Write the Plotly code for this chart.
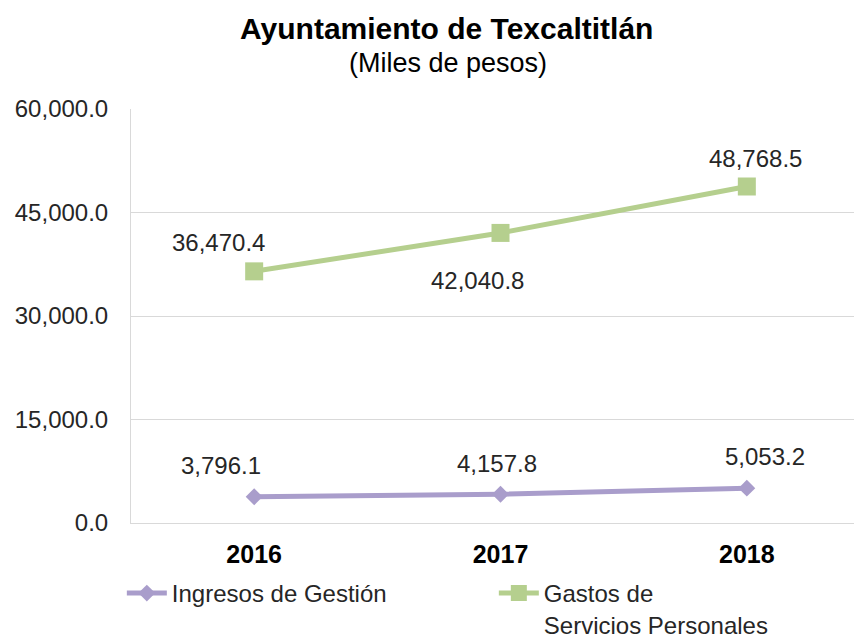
import plotly.graph_objects as go

years = ["2016", "2017", "2018"]
ingresos = [3796.1, 4157.8, 5053.2]
gastos = [36470.4, 42040.8, 48768.5]
ingresos_name = "Ingresos de Gestión"
gastos_name = "Gastos de<br>Servicios Personales"

# label offsets (style only, px)
ingresos_dx = [-33, -4, 18]
ingresos_dy = [31, 31, 32]
gastos_dx = [-36, -23, 9]
gastos_dy = [29, -48, 28]

PURPLE = "#A99DCB"
GREEN = "#B5CF8E"
FONT = "Liberation Sans, Arial, sans-serif"
TXT = "#262626"

fig = go.Figure()
fig.add_trace(go.Scatter(
    x=years, y=ingresos, name=ingresos_name, mode="lines+markers",
    line=dict(color=PURPLE, width=5),
    marker=dict(symbol="diamond", size=13, color=PURPLE),
))
fig.add_trace(go.Scatter(
    x=years, y=gastos, name=gastos_name, mode="lines+markers",
    line=dict(color=GREEN, width=5),
    marker=dict(symbol="square", size=18, color=GREEN),
))

annotations = []
for vals, dxs, dys in ((ingresos, ingresos_dx, ingresos_dy), (gastos, gastos_dx, gastos_dy)):
    for i, (yv, dx, dy) in enumerate(zip(vals, dxs, dys)):
        annotations.append(dict(x=i, y=yv, xref="x", yref="y", text=f"{yv:,.1f}",
                                showarrow=False, xshift=dx, yshift=dy,
                                xanchor="center", yanchor="middle",
                                font=dict(size=24, color=TXT, family=FONT)))

annotations.append(dict(text="<b>Ayuntamiento de Texcaltitlán</b>", xref="paper", yref="paper",
                        x=0.4276, y=1.0, yshift=81, showarrow=False, xanchor="center",
                        yanchor="middle", font=dict(size=30, color="black", family=FONT)))
annotations.append(dict(text="(Miles de pesos)", xref="paper", yref="paper",
                        x=0.4283, y=1.0, yshift=46, showarrow=False, xanchor="center",
                        yanchor="middle", font=dict(size=27, color="black", family=FONT)))

fig.update_layout(
    width=862, height=637,
    margin=dict(l=123, r=0, t=101, b=122, autoexpand=False),
    paper_bgcolor="white", plot_bgcolor="white",
    font=dict(family=FONT, size=24, color=TXT),
    annotations=annotations,
    showlegend=True,
    legend=dict(orientation="h", x=-0.0124, xref="paper", y=-0.116, yanchor="top",
                xanchor="left", entrywidth=317, valign="top", itemwidth=40,
                font=dict(size=24, color=TXT, family=FONT)),
)
fig.update_xaxes(type="category", range=[-0.5, 2.5], showgrid=False, showline=True,
                 linecolor="#d9d9d9", linewidth=1, ticks="", ticklabelstandoff=9,
                 tickfont=dict(size=25, color="black", family=FONT),
                 tickvals=years, ticktext=["<b>%s</b>" % y for y in years])
fig.update_yaxes(range=[0, 60000], dtick=15000, tickformat=",.1f", showgrid=True,
                 gridcolor="#d9d9d9", showline=True, linecolor="#d9d9d9", zeroline=False,
                 ticks="", ticklabelstandoff=17,
                 tickfont=dict(size=24, color=TXT, family=FONT))

fig.write_html("out.html")
